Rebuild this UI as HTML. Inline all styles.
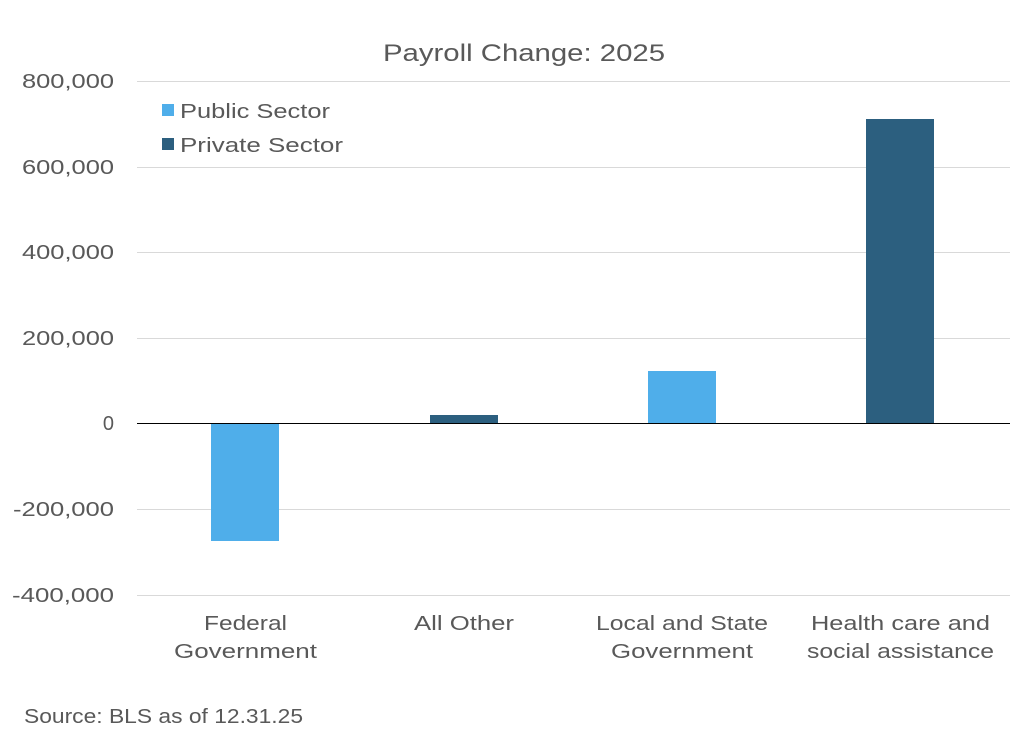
<!DOCTYPE html>
<html><head><style>
body{margin:0;background:#fff;}
svg text{font-family:"Liberation Sans",sans-serif;fill:#595959;}
</style></head><body>
<svg width="1036" height="742" viewBox="0 0 1036 742" xmlns="http://www.w3.org/2000/svg">
<rect width="1036" height="742" fill="#fff"/>
<text x="383" y="61" font-size="24" textLength="282" lengthAdjust="spacingAndGlyphs">Payroll Change: 2025</text>
<g stroke="#d9d9d9" stroke-width="1">
<line x1="137" x2="1010" y1="81.5" y2="81.5"/>
<line x1="137" x2="1010" y1="167.5" y2="167.5"/>
<line x1="137" x2="1010" y1="252.5" y2="252.5"/>
<line x1="137" x2="1010" y1="338.5" y2="338.5"/>
<line x1="137" x2="1010" y1="509.5" y2="509.5"/>
<line x1="137" x2="1010" y1="595.5" y2="595.5"/>
</g>
<g font-size="20" lengthAdjust="spacingAndGlyphs">
<text x="22" y="88" textLength="92" lengthAdjust="spacingAndGlyphs">800,000</text>
<text x="22" y="174" textLength="92" lengthAdjust="spacingAndGlyphs">600,000</text>
<text x="22" y="259" textLength="92" lengthAdjust="spacingAndGlyphs">400,000</text>
<text x="22" y="345" textLength="92" lengthAdjust="spacingAndGlyphs">200,000</text>
<text x="114" y="430" text-anchor="end">0</text>
<text x="13" y="516" textLength="101" lengthAdjust="spacingAndGlyphs">-200,000</text>
<text x="12" y="602" textLength="102" lengthAdjust="spacingAndGlyphs">-400,000</text>
</g>
<rect x="211" y="423" width="68" height="118" fill="#4faeea"/>
<rect x="430" y="415" width="68" height="8" fill="#2c5f7f"/>
<rect x="648" y="371" width="68" height="52" fill="#4faeea"/>
<rect x="866" y="119" width="68" height="304" fill="#2c5f7f"/>
<line x1="137" x2="1010" y1="423.5" y2="423.5" stroke="#000" stroke-width="1"/>
<g font-size="20">
<text x="204" y="630" textLength="83" lengthAdjust="spacingAndGlyphs">Federal</text>
<text x="174" y="658" textLength="143" lengthAdjust="spacingAndGlyphs">Government</text>
<text x="414" y="630" textLength="100" lengthAdjust="spacingAndGlyphs">All Other</text>
<text x="596" y="630" textLength="172" lengthAdjust="spacingAndGlyphs">Local and State</text>
<text x="611" y="658" textLength="142" lengthAdjust="spacingAndGlyphs">Government</text>
<text x="811" y="630" textLength="179" lengthAdjust="spacingAndGlyphs">Health care and</text>
<text x="807" y="658" textLength="187" lengthAdjust="spacingAndGlyphs">social assistance</text>
</g>
<rect x="162" y="104" width="12" height="12" fill="#4faeea"/>
<text x="180" y="118" font-size="20" textLength="150" lengthAdjust="spacingAndGlyphs">Public Sector</text>
<rect x="162" y="138" width="12" height="12" fill="#2c5f7f"/>
<text x="180" y="152" font-size="20" textLength="163" lengthAdjust="spacingAndGlyphs">Private  Sector</text>
<text x="24" y="723" font-size="20" textLength="279" lengthAdjust="spacingAndGlyphs">Source:  BLS as of 12.31.25</text>
</svg>
</body></html>
